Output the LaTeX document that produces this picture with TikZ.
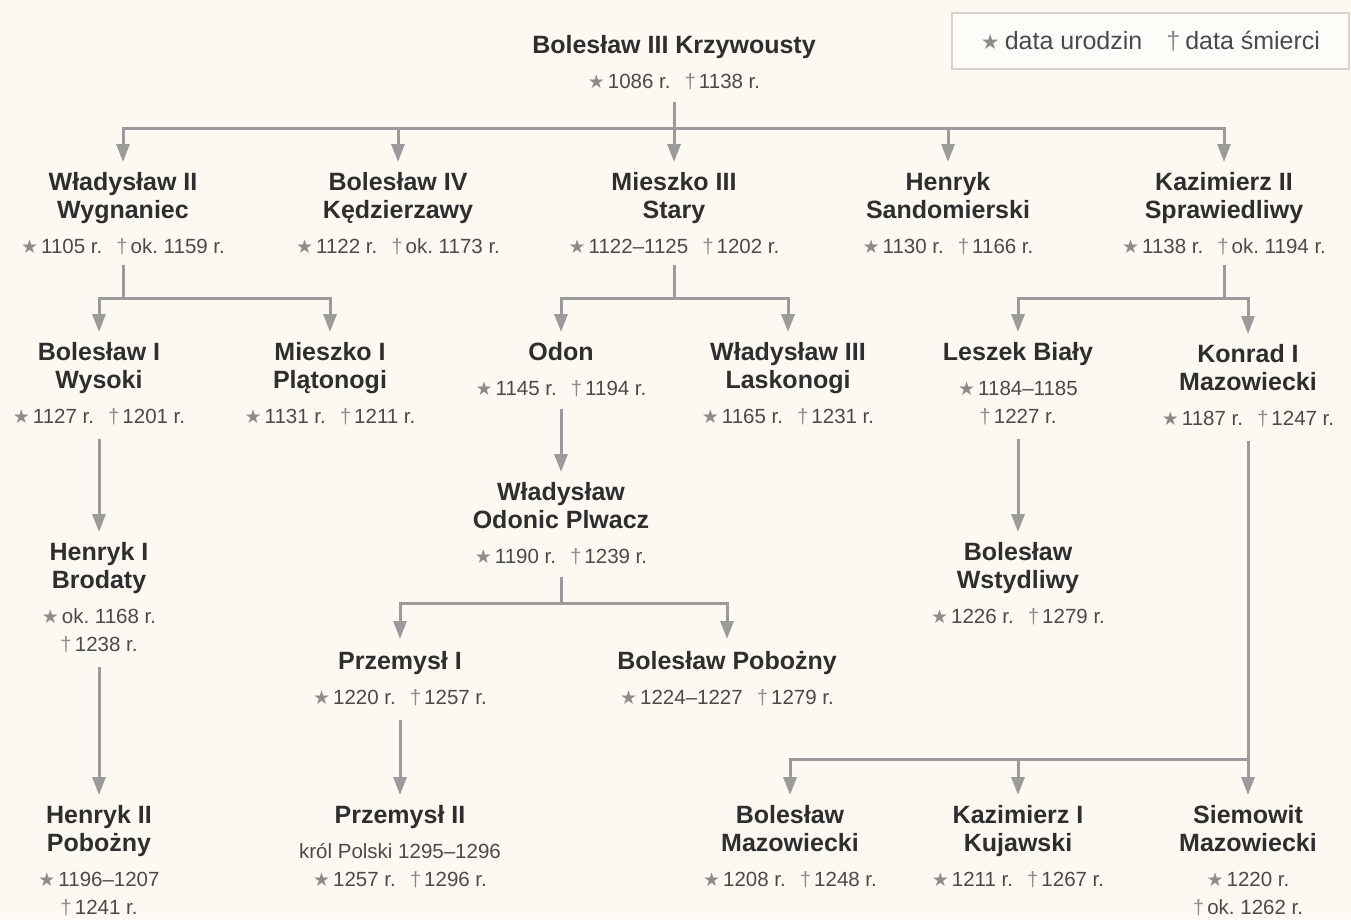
\documentclass[tikz,border=0pt]{standalone}
\usepackage{fontspec}
\setmainfont{Liberation Sans}
\newfontfamily\symfont{DejaVu Sans}
\usetikzlibrary{arrows.meta}
\definecolor{bgc}{HTML}{FCF9F2}
\definecolor{linec}{HTML}{9B9B9B}
\definecolor{namec}{HTML}{2E2E2E}
\definecolor{datec}{HTML}{4A4A4A}
\definecolor{symc}{HTML}{8C8C8C}
\definecolor{boxc}{HTML}{FEFCF8}
\definecolor{boxd}{HTML}{D6D3CE}
\newcommand\ZStar{{\symfont\fontsize{19}{19}\selectfont\color{symc}★}\hspace{3pt}}
\newcommand\ZDag{{\color{symc}†}\hspace{3pt}}
\newcommand\ZGap{\hspace{14pt}}
\newcommand\ZName{\frenchspacing\fontsize{25}{28}\selectfont\bfseries\color{namec}}
\newcommand\ZDate{\frenchspacing\fontsize{20.5}{28.5}\selectfont\mdseries\color{datec}}
\tikzset{
  person/.style={align=center, inner sep=0pt, anchor=north, font=\ZName},
  conn/.style={draw=linec, line width=3pt},
  arr/.style={conn, -{Triangle[width=13pt,length=18pt]}},
}
\begin{document}
\begin{tikzpicture}[x=1pt,y=-1pt]
\useasboundingbox (0,0) rectangle (1351,919);
\fill[bgc] (0,0) rectangle (1351,919);
% legend
\node[draw=boxd, fill=boxc, line width=1.5pt, minimum width=397pt, minimum height=56pt, inner sep=0pt] (leg) at (1150.5,41)
  {\fontsize{25}{28}\selectfont\color{datec}{\symfont\fontsize{21}{21}\selectfont\color{symc}★}\hspace{5pt}data urodzin\hspace{24pt}{\color{symc}†}\hspace{5pt}data śmierci};
% level 0
\node[person] (root) at (674,35) {Bolesław III Krzywousty\\[7pt]\ZDate\ZStar 1086 r.\ZGap\ZDag 1138 r.};
% level 1
\node[person] (w2) at (123,172) {Władysław II\\\ZName Wygnaniec\\[7pt]\ZDate\ZStar 1105 r.\ZGap\ZDag ok. 1159 r.};
\node[person] (b4) at (398,172) {Bolesław IV\\\ZName Kędzierzawy\\[7pt]\ZDate\ZStar 1122 r.\ZGap\ZDag ok. 1173 r.};
\node[person] (m3) at (674,172) {Mieszko III\\\ZName Stary\\[7pt]\ZDate\ZStar 1122–1125\ZGap\ZDag 1202 r.};
\node[person] (hs) at (948,172) {Henryk\\\ZName Sandomierski\\[7pt]\ZDate\ZStar 1130 r.\ZGap\ZDag 1166 r.};
\node[person] (k2) at (1224,172) {Kazimierz II\\\ZName Sprawiedliwy\\[7pt]\ZDate\ZStar 1138 r.\ZGap\ZDag ok. 1194 r.};
% level 2
\node[person] (b1) at (99,342) {Bolesław I\\\ZName Wysoki\\[7pt]\ZDate\ZStar 1127 r.\ZGap\ZDag 1201 r.};
\node[person] (m1) at (330,342) {Mieszko I\\\ZName Plątonogi\\[7pt]\ZDate\ZStar 1131 r.\ZGap\ZDag 1211 r.};
\node[person] (od) at (561,342) {Odon\\[7pt]\ZDate\ZStar 1145 r.\ZGap\ZDag 1194 r.};
\node[person] (w3) at (788,342) {Władysław III\\\ZName Laskonogi\\[7pt]\ZDate\ZStar 1165 r.\ZGap\ZDag 1231 r.};
\node[person] (lb) at (1018,342) {Leszek Biały\\[7pt]\ZDate\ZStar 1184–1185\\\ZDate\ZDag 1227 r.};
\node[person] (k1) at (1248,344) {Konrad I\\\ZName Mazowiecki\\[7pt]\ZDate\ZStar 1187 r.\ZGap\ZDag 1247 r.};
% level 3
\node[person] (h1) at (99,542) {Henryk I\\\ZName Brodaty\\[7pt]\ZDate\ZStar ok. 1168 r.\\\ZDate\ZDag 1238 r.};
\node[person] (wo) at (561,482) {Władysław\\\ZName Odonic Plwacz\\[7pt]\ZDate\ZStar 1190 r.\ZGap\ZDag 1239 r.};
\node[person] (bw) at (1018,542) {Bolesław\\\ZName Wstydliwy\\[7pt]\ZDate\ZStar 1226 r.\ZGap\ZDag 1279 r.};
\node[person] (p1) at (400,651) {Przemysł I\\[7pt]\ZDate\ZStar 1220 r.\ZGap\ZDag 1257 r.};
\node[person] (bp) at (727,651) {Bolesław Pobożny\\[7pt]\ZDate\ZStar 1224–1227\ZGap\ZDag 1279 r.};
% level 4
\node[person] (h2) at (99,805) {Henryk II\\\ZName Pobożny\\[7pt]\ZDate\ZStar 1196–1207\\\ZDate\ZDag 1241 r.};
\node[person] (p2) at (400,805) {Przemysł II\\[7pt]\ZDate król Polski 1295–1296\\\ZDate\ZStar 1257 r.\ZGap\ZDag 1296 r.};
\node[person] (bm) at (790,805) {Bolesław\\\ZName Mazowiecki\\[7pt]\ZDate\ZStar 1208 r.\ZGap\ZDag 1248 r.};
\node[person] (kk) at (1018,805) {Kazimierz I\\\ZName Kujawski\\[7pt]\ZDate\ZStar 1211 r.\ZGap\ZDag 1267 r.};
\node[person] (sm) at (1248,805) {Siemowit\\\ZName Mazowiecki\\[7pt]\ZDate\ZStar 1220 r.\\\ZDate\ZDag ok. 1262 r.};
% buses
\coordinate (bus0) at (674,128);
\coordinate (bus1) at (123,298);
\coordinate (bus2) at (674,298);
\coordinate (bus3) at (1224,298);
\coordinate (bus4) at (561,603);
\coordinate (bus5) at (1248,759);
% connectors
\draw[conn] ([yshift=-12pt]root.south) -- (bus0);
\foreach \c in {w2,b4,m3,hs,k2} \draw[arr] (bus0) -| ([yshift=10pt]\c.north);
\draw[conn] ([yshift=-10pt]w2.south) -- (bus1);
\foreach \c in {b1,m1} \draw[arr] (bus1) -| ([yshift=10pt]\c.north);
\draw[conn] ([yshift=-10pt]m3.south) -- (bus2);
\foreach \c in {od,w3} \draw[arr] (bus2) -| ([yshift=10pt]\c.north);
\draw[conn] ([yshift=-10pt]k2.south) -- (bus3);
\foreach \c in {lb,k1} \draw[arr] (bus3) -| ([yshift=10pt]\c.north);
\draw[arr] ([yshift=-14pt]b1.south) -- ([yshift=10pt]h1.north);
\draw[arr] ([yshift=-12pt]od.south) -- ([yshift=10pt]wo.north);
\draw[arr] ([yshift=-14pt]lb.south) -- ([yshift=10pt]bw.north);
\draw[conn] ([yshift=-12pt]wo.south) -- (bus4);
\foreach \c in {p1,bp} \draw[arr] (bus4) -| ([yshift=12pt]\c.north);
\draw[arr] ([yshift=-14pt]h1.south) -- ([yshift=10pt]h2.north);
\draw[arr] ([yshift=-14pt]p1.south) -- ([yshift=10pt]p2.north);
\draw[conn] ([yshift=-14pt]k1.south) -- (bus5);
\foreach \c in {bm,kk,sm} \draw[arr] (bus5) -| ([yshift=10pt]\c.north);
\end{tikzpicture}
\end{document}
